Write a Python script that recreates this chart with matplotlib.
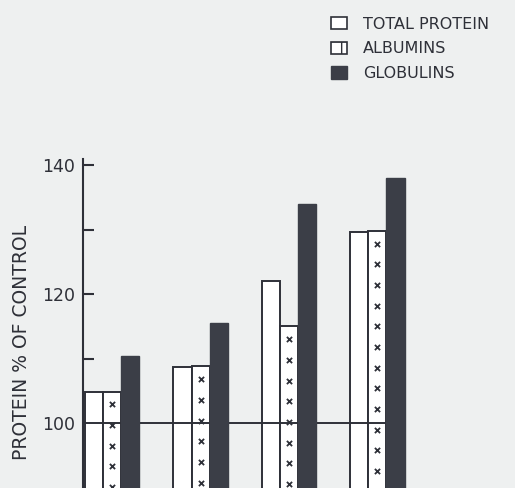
import numpy as np
import matplotlib.pyplot as plt
from matplotlib.patches import Patch

groups = np.arange(4)
total_protein = [104.8, 108.7, 122.0, 129.6]
albumins = [104.9, 108.8, 115.0, 129.8]
globulins = [110.4, 115.5, 134.0, 138.0]

paper = '#eef0f0'
ink = '#2e3038'
dark = '#3b3e47'

fig = plt.figure(figsize=(5.15, 4.88), dpi=100, facecolor=paper)
ax = fig.add_axes([0.1612, -0.0656, 0.654, 0.7406])
ax.set_facecolor(paper)

w = 0.205
ax.bar(groups - w, total_protein, w, bottom=0, color='white', edgecolor=ink, lw=1.4, zorder=2)
ax.bar(groups, albumins, w, bottom=0, color='white', edgecolor=ink, lw=1.4, zorder=2)
ax.bar(groups + w, globulins, w, bottom=0, color=dark, edgecolor=dark, lw=1.0, zorder=3)
# reference line at 100 % of control
ax.hlines(100, -0.33, 3.2, color=ink, lw=1.4, zorder=2.5)

# little crosses inside the albumin bars
for g, h in zip(groups, albumins):
    ys = np.arange(h - 2.0, 85, -3.2)
    ax.scatter(np.full(len(ys), g), ys, marker='x', s=14, color=ink, lw=1.3, zorder=4)

ax.set_xlim(-0.33, 3.48)
ax.set_ylim(85, 141)
ax.set_xticks([])
ax.set_yticks([100, 120, 140])
ax.set_yticks([110, 130], minor=True)
ax.tick_params(axis='y', which='both', direction='in', length=8, width=1.5,
               color=ink, labelsize=12.5, labelcolor=ink, pad=6)
for s in ['top', 'right', 'bottom']:
    ax.spines[s].set_visible(False)
ax.spines['left'].set_linewidth(1.5)
ax.spines['left'].set_color(ink)
ax.set_ylabel('PROTEIN % OF CONTROL', fontsize=13.5, color=ink)
ax.yaxis.set_label_coords(-0.155, 0.49)

handles = [Patch(facecolor='white', edgecolor=ink, lw=1.2),
           Patch(facecolor='white', edgecolor=ink, lw=1.2, hatch='+'),
           Patch(facecolor=dark, edgecolor=dark)]
fig.legend(handles, ['TOTAL PROTEIN', 'ALBUMINS', 'GLOBULINS'],
           loc='upper left', bbox_to_anchor=(0.615, 0.995), frameon=False,
           fontsize=11.5, handlelength=1.0, handleheight=0.8, labelspacing=0.6,
           handletextpad=1.0, labelcolor=ink)

fig.savefig('out.png', dpi=100, facecolor=paper)
